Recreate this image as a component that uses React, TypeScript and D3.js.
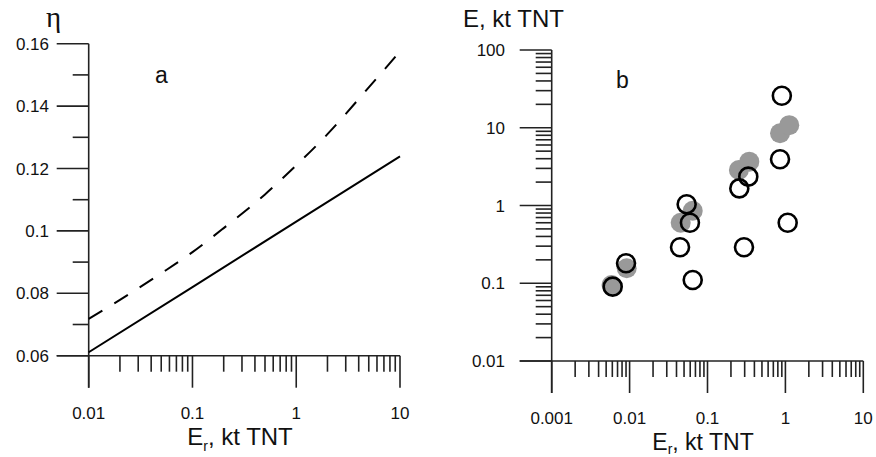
import React from "react";
import * as d3 from "d3";

// Panel a: efficiency η vs Er (kt TNT)
const etaSolidX = [0.01, 0.1, 1, 10];
const etaSolidY = [0.0611, 0.082, 0.103, 0.1239];
const etaDashX = [0.01, 0.02, 0.05, 0.1, 0.2, 0.5, 1, 2, 5, 10];
const etaDashY = [0.0718, 0.0779, 0.0864, 0.0932, 0.1009, 0.1117, 0.121, 0.131, 0.146, 0.1575];
const etaYTicksMajor = [0.06, 0.08, 0.1, 0.12, 0.14, 0.16];
const etaYTicksMinor = [0.07, 0.09, 0.11, 0.13, 0.15];
const etaXTickLabels = ["0.01", "0.1", "1", "10"];

// Panel b: E vs Er (kt TNT)
const grayEr = [0.00586, 0.00918, 0.0453, 0.0646, 0.253, 0.344, 0.853, 1.12];
const grayE = [0.0948, 0.156, 0.6, 0.857, 2.86, 3.66, 8.49, 10.8];
const openEr = [0.054, 0.0595, 0.0444, 0.0646, 0.009, 0.00607, 0.294, 0.256, 0.334, 0.9, 0.853, 1.07];
const openE = [1.04, 0.6, 0.29, 0.11, 0.181, 0.0904, 0.29, 1.66, 2.35, 25.8, 3.93, 0.6];
const bXTickLabels = ["0.001", "0.01", "0.1", "1", "10"];
const bYTickLabels = ["0.01", "0.1", "1", "10", "100"];

const AX = "#222";
const FONT = "'Liberation Sans', Arial, sans-serif";

function logTicks(lo: number, hi: number) {
  const s = d3.scaleLog().domain([lo, hi]);
  return s.ticks();
}
function isMajor(v: number) {
  const l = Math.log10(v);
  return Math.abs(l - Math.round(l)) < 1e-9;
}

export default function App() {
  // Panel a scales
  const ax = d3.scaleLog().domain([0.01, 10]).range([88.7, 400]);
  const ay = d3.scaleLinear().domain([0.06, 0.16]).range([355.7, 43.7]);
  const lineA = d3
    .line<[number, number]>()
    .x((d) => ax(d[0]))
    .y((d) => ay(d[1]));
  const dashLine = d3
    .line<[number, number]>()
    .x((d) => ax(d[0]))
    .y((d) => ay(d[1]))
    .curve(d3.curveMonotoneX);
  const solidData = etaSolidX.map((x, i) => [x, etaSolidY[i]] as [number, number]);
  const dashData = etaDashX.map((x, i) => [x, etaDashY[i]] as [number, number]);
  const aXTicks = logTicks(0.01, 10);

  // Panel b scales
  const bx = d3.scaleLog().domain([0.001, 10]).range([551.7, 863.3]);
  const by = d3.scaleLog().domain([0.01, 100]).range([361, 50]);
  const bXTicks = logTicks(0.001, 10);
  const bYTicks = logTicks(0.01, 100);
  const bXMajor = bXTicks.filter(isMajor);
  const bYMajor = bYTicks.filter(isMajor);
  const aXMajor = aXTicks.filter(isMajor);

  const ya0 = ay(0.06);
  const yb0 = by(0.01);
  const xa0 = ax(0.01);
  const xb0 = bx(0.001);

  return (
    <svg width={876} height={457} style={{ position: "absolute", left: 0, top: 0, background: "#fff" }} fontFamily={FONT}>
      <rect width={876} height={457} fill="#fff" />
      {/* ===== Panel a ===== */}
      <g stroke={AX} strokeWidth={1.6} fill="none">
        <line x1={xa0} x2={xa0} y1={ay(0.16)} y2={ya0 + 32} />
        <line x1={xa0 - 32} x2={ax(10)} y1={ya0} y2={ya0} />
        {etaYTicksMajor.map((v) => (
          <line key={"aym" + v} x1={xa0 - 32} x2={xa0} y1={ay(v)} y2={ay(v)} />
        ))}
        {etaYTicksMinor.map((v) => (
          <line key={"ayn" + v} x1={xa0 - 16} x2={xa0} y1={ay(v)} y2={ay(v)} />
        ))}
        {aXTicks.map((v) => (
          <line key={"axt" + v} x1={ax(v)} x2={ax(v)} y1={ya0} y2={ya0 + (isMajor(v) ? 32 : 16)} />
        ))}
      </g>
      <g fontSize={17} fill="#111">
        {etaYTicksMajor.map((v) => (
          <text key={"ayl" + v} x={49} y={ay(v)} dy="0.36em" textAnchor="end">
            {String(v)}
          </text>
        ))}
        {aXMajor.map((v, i) => (
          <text key={"axl" + v} x={ax(v)} y={419} textAnchor="middle">
            {etaXTickLabels[i]}
          </text>
        ))}
      </g>
      <text x={46} y={27} fontSize={29} fontFamily="'Liberation Serif', 'DejaVu Serif', serif" fill="#111">
        η
      </text>
      <text x={155} y={83} fontSize={23} fill="#111">
        a
      </text>
      <text x={240} y={445} fontSize={24} textAnchor="middle" fill="#111">
        E<tspan fontSize={14} dy={6}>r</tspan>
        <tspan dy={-6}>, kt TNT</tspan>
      </text>
      <path d={lineA(solidData) || ""} stroke="#000" strokeWidth={2} fill="none" />
      <path d={dashLine(dashData) || ""} stroke="#000" strokeWidth={2} fill="none" strokeDasharray="16 14" />

      {/* ===== Panel b ===== */}
      <g stroke={AX} strokeWidth={1.6} fill="none">
        <line x1={xb0} x2={xb0} y1={by(100)} y2={yb0 + 32} />
        <line x1={xb0 - 32} x2={bx(10)} y1={yb0} y2={yb0} />
        {bYTicks.map((v) => (
          <line key={"byt" + v} x1={xb0 - (isMajor(v) ? 32 : 16)} x2={xb0} y1={by(v)} y2={by(v)} />
        ))}
        {bXTicks.map((v) => (
          <line key={"bxt" + v} x1={bx(v)} x2={bx(v)} y1={yb0} y2={yb0 + (isMajor(v) ? 32 : 16)} />
        ))}
      </g>
      <g fontSize={17} fill="#111">
        {bYMajor.map((v, i) => (
          <text key={"byl" + v} x={505} y={by(v)} dy="0.36em" textAnchor="end">
            {bYTickLabels[i]}
          </text>
        ))}
        {bXMajor.map((v, i) => (
          <text key={"bxl" + v} x={bx(v)} y={424} textAnchor="middle">
            {bXTickLabels[i]}
          </text>
        ))}
      </g>
      <text x={463} y={27} fontSize={24} fill="#111">
        E, kt TNT
      </text>
      <text x={616} y={88} fontSize={23} fill="#111">
        b
      </text>
      <text x={703} y={450} fontSize={23} textAnchor="middle" fill="#111">
        E<tspan fontSize={14} dy={4}>r</tspan>
        <tspan dy={-4}>, kt TNT</tspan>
      </text>
      <g>
        {grayEr.map((x, i) => (
          <circle key={"g" + i} cx={bx(x)} cy={by(grayE[i])} r={10} fill="#999" />
        ))}
        {openEr.map((x, i) => (
          <circle key={"o" + i} cx={bx(x)} cy={by(openE[i])} r={9} fill="none" stroke="#000" strokeWidth={2.6} />
        ))}
      </g>
    </svg>
  );
}
